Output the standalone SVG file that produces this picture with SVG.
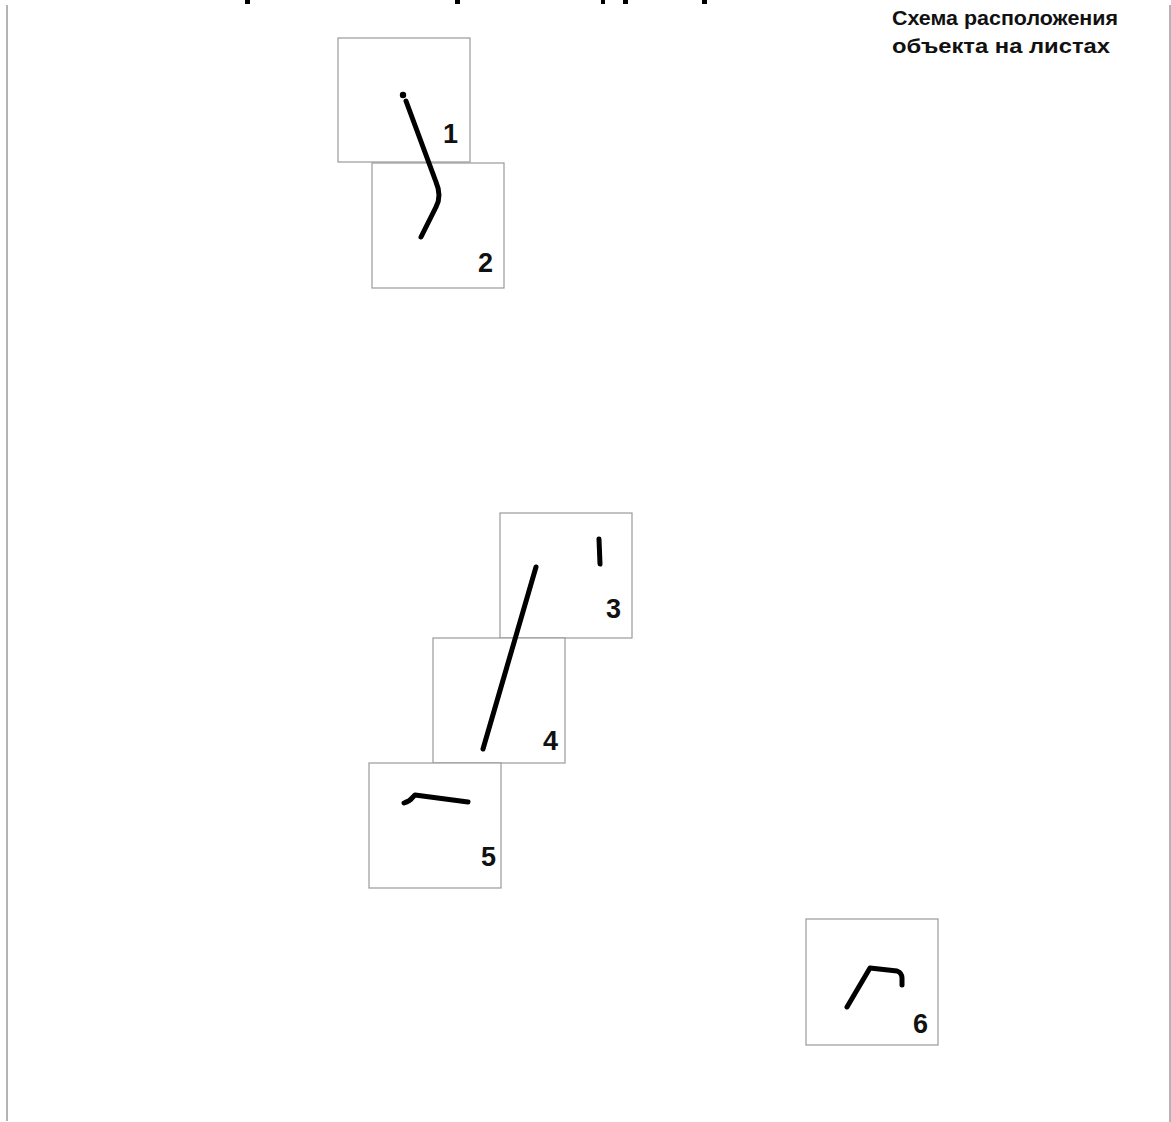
<svg xmlns="http://www.w3.org/2000/svg" width="1171" height="1122" viewBox="0 0 1171 1122">
<style>
.sheet{fill:#ffffff;stroke:#9a9a9a;stroke-width:1.2}
.num{font-family:"Liberation Sans",Arial,sans-serif;font-weight:bold;font-size:27px;fill:#111;text-anchor:end}
.obj{fill:none;stroke:#000;stroke-width:5;stroke-linecap:round;stroke-linejoin:round}
.frame{stroke:#b4b4b4;stroke-width:2}
.head{font-family:"Liberation Sans",Arial,sans-serif;font-weight:bold;font-size:21px;fill:#111}
.clip{fill:#000}
</style>
<rect width="1171" height="1122" fill="#ffffff"/>
<g id="frame">
<line class="frame" x1="7" y1="5" x2="7" y2="1121"/>
<line class="frame" x1="1170" y1="5" x2="1170" y2="1122" stroke="#d8d8d8"/>
</g>
<g id="title-clipped">
<rect class="clip" x="245" y="0" width="5" height="4"/>
<rect class="clip" x="455" y="0" width="5" height="4"/>
<rect class="clip" x="601" y="0" width="4" height="4"/>
<rect class="clip" x="623" y="0" width="5" height="4"/>
<rect class="clip" x="702" y="0" width="5" height="4"/>
</g>
<g id="legend">
<text class="head" x="892" y="25" textLength="226" lengthAdjust="spacingAndGlyphs">Схема расположения</text>
<text class="head" x="892" y="53" textLength="218" lengthAdjust="spacingAndGlyphs">объекта на листах</text>
</g>
<g id="sheet-1"><rect class="sheet" x="338" y="38" width="132" height="124"/><text class="num" x="458" y="143">1</text></g>
<g id="sheet-2"><rect class="sheet" x="372" y="163" width="132" height="125"/><text class="num" x="493" y="272">2</text></g>
<g id="sheet-3"><rect class="sheet" x="500" y="513" width="132" height="125"/><text class="num" x="621" y="618">3</text></g>
<g id="sheet-4"><rect class="sheet" x="433" y="638" width="132" height="125"/><text class="num" x="558" y="750">4</text></g>
<g id="sheet-5"><rect class="sheet" x="369" y="763" width="132" height="125"/><text class="num" x="496" y="866">5</text></g>
<g id="sheet-6"><rect class="sheet" x="806" y="919" width="132" height="126"/><text class="num" x="928" y="1033">6</text></g>
<g id="connectors">
<circle cx="403" cy="95" r="3.2" fill="#000"/>
<path class="obj" d="M406,101 L436,182 Q442,196 436,207 L421,237"/>
<path class="obj" d="M536,567 L483,749"/>
<path class="obj" d="M599,539 L600,564"/>
<path class="obj" d="M404,803 Q410,801 412,798 L415,795 L468,802"/>
<path class="obj" d="M847,1007 L870,968 L897,971 Q902,973 902,978 L902,985"/>
</g>
</svg>
